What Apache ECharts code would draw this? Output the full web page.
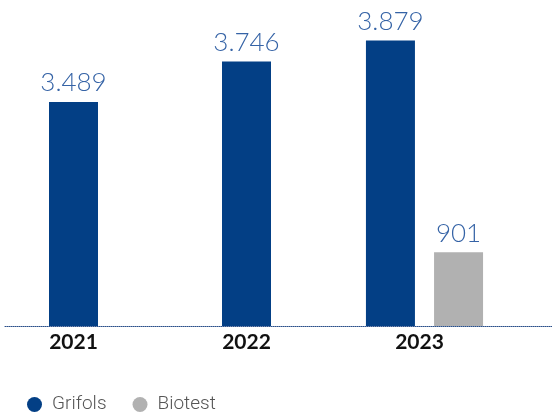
<!DOCTYPE html>
<html>
<head>
<meta charset="utf-8">
<script src="https://cdn.jsdelivr.net/npm/echarts@6/dist/echarts.min.js"></script>
<style>
  html, body { margin: 0; padding: 0; background: #fff; }
  #chart { width: 552px; height: 414px; }
</style>
</head>
<body>
<div id="chart"></div>
<script>
const years = ['2021', '2022', '2023'];
const grifols = [3489, 3746, 3879];
const biotest = [null, null, 901];
const seriesNames = ['Grifols', 'Biotest'];

function fmt(v) {
  return String(v).replace(/\B(?=(\d{3})+(?!\d))/g, '.');
}

const lastIdx = years.length - 1;
const grifolsSingle = grifols.map((v, i) => (i === lastIdx ? '-' : v));
const grifolsPair = grifols.map((v, i) => (i === lastIdx ? v : '-'));
const biotestPair = biotest.map(v => (v == null ? '-' : v));

const BLUE = '#033f85';
const GREY = '#b1b1b1';
const LABEL_BLUE = '#3563a6';

const labelStyle = {
  show: true,
  position: 'top',
  distance: 6,
  formatter: p => fmt(p.value),
  color: LABEL_BLUE,
  fontFamily: 'Lato',
  fontWeight: 300,
  fontSize: 26
};

const chart = echarts.init(document.getElementById('chart'), null, { renderer: 'canvas' });
chart.setOption({
  animation: false,
  backgroundColor: '#fff',
  grid: [
    { left: -13, width: 519, top: 26, bottom: 88, outerBoundsMode: 'none', containLabel: false },
    { left: -8, width: 519, top: 26, bottom: 88, outerBoundsMode: 'none', containLabel: false },
    { left: 5, right: 0, top: 26, bottom: 88, outerBoundsMode: 'none', containLabel: false }
  ],
  legend: {
    data: seriesNames,
    left: 22,
    top: 390,
    icon: 'circle',
    itemWidth: 15,
    itemHeight: 15,
    itemGap: 26,
    textStyle: {
      fontFamily: 'Roboto',
      fontWeight: 300,
      fontSize: 19,
      color: '#555',
      padding: [0, 0, 0, 5]
    }
  },
  xAxis: [
    {
      type: 'category', gridIndex: 0, data: years,
      axisLine: { show: false }, axisTick: { show: false },
      axisLabel: { color: '#111', fontFamily: 'Lato', fontWeight: 'bold', fontSize: 21, margin: 6 }
    },
    {
      type: 'category', gridIndex: 1, data: years, show: false
    },
    {
      type: 'category', gridIndex: 2, data: years,
      axisLine: { show: true, lineStyle: { color: '#2a4f8a', type: [1, 1], width: 1 } },
      axisTick: { show: false }, axisLabel: { show: false }
    }
  ],
  yAxis: [
    { type: 'value', gridIndex: 0, min: 2064, max: 3972, show: false, splitLine: { show: false } },
    { type: 'value', gridIndex: 1, min: 2064, max: 3972, show: false, splitLine: { show: false } },
    { type: 'value', gridIndex: 1, min: 0, max: 3668, show: false, splitLine: { show: false } },
    { type: 'value', gridIndex: 2, min: 0, max: 1, show: false, splitLine: { show: false } }
  ],
  series: [
    {
      name: 'Grifols', type: 'bar', xAxisIndex: 0, yAxisIndex: 0,
      data: grifolsSingle, barWidth: 49,
      itemStyle: { color: BLUE }, label: labelStyle
    },
    {
      name: 'Grifols', type: 'bar', xAxisIndex: 1, yAxisIndex: 1,
      data: grifolsPair, barWidth: 49, barGap: '39%',
      itemStyle: { color: BLUE }, label: labelStyle
    },
    {
      name: 'Biotest', type: 'bar', xAxisIndex: 1, yAxisIndex: 2,
      data: biotestPair, barWidth: 49, barGap: '39%',
      itemStyle: { color: GREY }, label: labelStyle
    }
  ]
});
</script>
</body>
</html>
